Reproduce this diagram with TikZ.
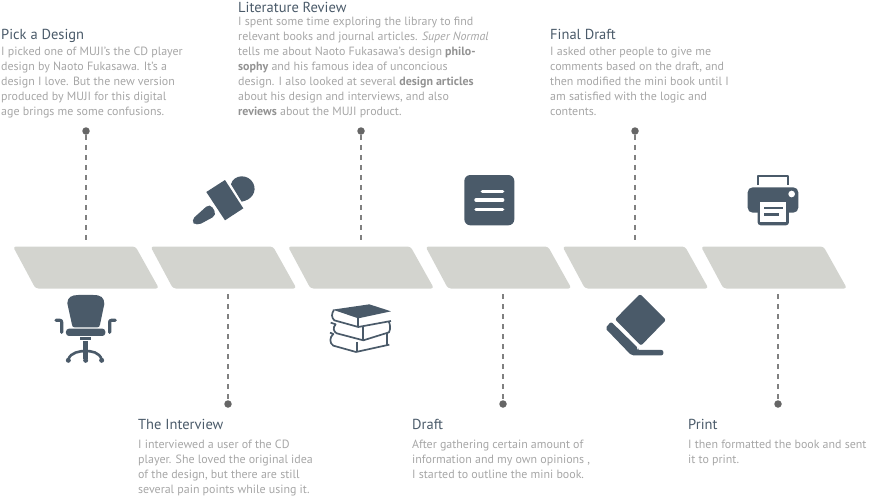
\documentclass[tikz,border=0pt]{standalone}
\usepackage{fontspec}
\setmainfont{PT Sans}
\definecolor{ink}{HTML}{4A5A69}
\definecolor{band}{HTML}{D3D4CF}
\definecolor{body}{HTML}{A6A6A6}
\definecolor{dash}{HTML}{808080}
\definecolor{dotc}{HTML}{666666}
\definecolor{bodyb}{HTML}{929292}
\newcommand{\bandshape}[1]{\fill[band,rounded corners=3pt] (#1pt+13pt,246.5) -- (#1pt+135.5pt,246.5) -- (#1pt+159pt,288.5) -- (#1pt+35.5pt,288.5) -- cycle;}
\newcommand{\hb}[1]{{\bfseries\color{bodyb}#1}}
\tikzset{
 x=1pt,y=-1pt,
 head/.style={anchor=base west,inner sep=0pt,text=ink,font=\fontsize{14.5}{15}\selectfont},
 para/.style={anchor=north west,inner sep=0pt,align=left,text=body,font=\fontsize{11.95}{15}\selectfont},
 dot/.style={circle,fill=dotc,inner sep=0pt,minimum size=7.5pt},
 conn/.style={draw=dash,line width=1.2pt,dash pattern=on 5pt off 5pt},
 zoomA/.style={x=.3333pt,y=-.3333pt,shift={(0pt,-150pt)}},
 zoomB/.style={x=.3333pt,y=-.3333pt,shift={(290pt,-150pt)}},
 zoomC/.style={x=.3333pt,y=-.3333pt,shift={(580pt,-150pt)}},
}
\begin{document}
\begin{tikzpicture}
\useasboundingbox (0,0) rectangle (869,496);
\bandshape{0}\bandshape{137.5}\bandshape{275}\bandshape{412.5}\bandshape{549.5}\bandshape{688}
% connectors
\node[dot] (d1) at (86,131) {};
\node[dot] (d2) at (228,404) {};
\node[dot] (d3) at (361,131) {};
\node[dot] (d4) at (503,404) {};
\node[dot] (d5) at (635,131) {};
\node[dot] (d6) at (778,404) {};
\coordinate (e1) at (86,240);
\coordinate (e2) at (228,294);
\coordinate (e3) at (361,240);
\coordinate (e4) at (503,294);
\coordinate (e5) at (635,240);
\coordinate (e6) at (778,294);
\foreach \i in {1,3,5} \draw[conn] (d\i) -- (e\i);
\foreach \i in {2,4,6} \draw[conn] (e\i) -- (d\i);
% texts
\node[head] (h1) at (1,39.5) {Pick a Design};
\node[para] (p1) at (1,47) {I picked one of MUJI’s the CD player\\design by Naoto Fukasawa. It’s a\\design I love. But the new version\\produced by MUJI for this digital\\age brings me some confusions.};
\node[head] (h3) at (238,12.5) {Literature Review};
\node[para] (p3) at (238,17) {I spent some time exploring the library to find\\relevant books and journal articles. \textit{Super Normal}\\tells me about Naoto Fukasawa’s design \hb{philo-}\\\hb{sophy} and his famous idea of unconcious\\design. I also looked at several \hb{design articles}\\about his design and interviews, and also\\\hb{reviews} about the MUJI product.};
\node[head] (h5) at (550,39.5) {Final Draft};
\node[para] (p5) at (550,47) {I asked other people to give me\\comments based on the draft, and\\then modified the mini book until I\\am satisfied with the logic and\\contents.};
\node[head] (h2) at (138,429) {The Interview};
\node[para] (p2) at (138,439.5) {I interviewed a user of the CD\\player. She loved the original idea\\of the design, but there are still\\several pain points while using it.};
\node[head] (h4) at (412,429) {Draft};
\node[para] (p4) at (412,439.5) {After gathering certain amount of\\information and my own opinions ,\\I started to outline the mini book.};
\node[head] (h6) at (688,429) {Print};
\node[para] (p6) at (688,439.5) {I then formatted the book and sent\\it to print.};
% chair
\begin{scope}[zoomA]
\fill[ink] (202,460) .. controls (202,442) and (215,435) .. (235,435) -- (280,435) .. controls (302,435) and (313,442) .. (313,462) -- (300,524) .. controls (299,530) and (296,532) .. (292,532) -- (224,532) .. controls (219,532) and (217,530) .. (216,524) -- cycle;
\fill[ink,rounded corners=3pt] (198,536) rectangle (316,558);
\fill[ink] (240,562) rectangle (274,570);
\fill[ink] (250,574) rectangle (264,628);
\draw[ink,line width=2.6pt] (205,628) .. controls (212,607) and (240,603) .. (257,603) .. controls (275,603) and (298,607) .. (305,628);
\foreach \cx in {205,257,305} \fill[ink] (\cx,631) circle[radius=7.5];
\draw[ink,line width=3.2pt,line join=round,line cap=round] (168,511) -- (180,511) .. controls (184,511) and (185,513) .. (185,517) -- (185,547);
\draw[ink,line width=3.2pt,line join=round,line cap=round] (346,511) -- (334,511) .. controls (330,511) and (329,513) .. (329,517) -- (329,547);
% mic
\fill[ink] (619,126) -- (675,90) -- (730,175) -- (675,211) -- cycle;
\fill[ink] (693,103) .. controls (700,73) and (745,70) .. (760,100) .. controls (772,125) and (755,150) .. (725,155) -- cycle;
\fill[ink,rounded corners=5pt] (630,160) -- (651,195) -- (590,228) -- (572,212) -- cycle;
\end{scope}
% books and document
\begin{scope}[zoomB]
\fill[ink,rounded corners=6pt] (523,75) rectangle (673,226);
\draw[white,line width=3.4pt,line cap=round] (577,124) -- (638,124) (558,150) -- (638,150) (558,178) -- (638,178);
\fill[ink] (128,479) -- (238,463) -- (303,484) -- (205,505) -- cycle;
\draw[ink,line width=1.7pt,line join=round] (132,480) .. controls (124,490) and (124,503) .. (133,511) -- (205,531) -- (303,513);
\draw[ink,line width=1.7pt] (205,504) -- (205,531);
\draw[ink,line width=1.7pt,line join=round] (122,518) -- (137,523) .. controls (128,532) and (130,545) .. (140,550) -- (220,571) -- (297,547) .. controls (303,535) and (300,522) .. (296,514);
\draw[ink,line width=1.7pt] (220,531) -- (220,571);
\draw[ink,line width=1.7pt,line join=round] (120,548) -- (130,552) .. controls (118,562) and (118,580) .. (130,587) -- (198,606) -- (298,584);
\draw[ink,line width=1.7pt] (200,576) -- (200,606) (290,550) -- (290,586);
\end{scope}
% eraser and printer
\begin{scope}[zoomC]
\fill[ink,rounded corners=2pt] (180,432) -- (258,510) -- (183,587) -- (105,508) -- cycle;
\fill[ink,rounded corners=2pt] (76,535) -- (93,515) -- (175,595) -- (172,600) -- (250,600) -- (250,616) -- (154,616) -- cycle;
\draw[ink,line width=2pt,line join=round] (535,105) -- (535,79) -- (625,79) -- (625,105);
\fill[ink,rounded corners=5pt] (503,112) rectangle (655,188);
\fill[white] (635,132) circle[radius=10];
\fill[ink,rounded corners=3pt] (533,170) rectangle (627,226);
\fill[white] (541,157) rectangle (617,217);
\fill[ink] (552,170) rectangle (608,178);
\fill[ink] (552,188) rectangle (598,197);
\end{scope}
\end{tikzpicture}
\end{document}
